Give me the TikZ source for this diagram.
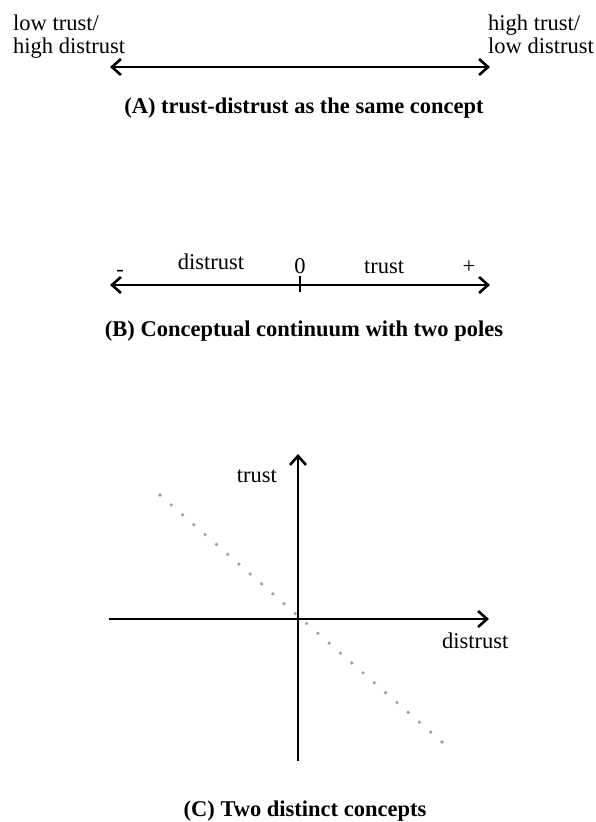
\documentclass[tikz,border=0pt]{standalone}
\usepackage{fontspec}
\setmainfont{Liberation Serif}
\usetikzlibrary{arrows.meta}
\begin{document}
\begin{tikzpicture}[x=1pt,y=-1pt,
  lbl/.style={font=\fontsize{22.5}{25}\selectfont, inner sep=0pt},
  captext/.style={font=\fontsize{22.5}{25}\selectfont\bfseries, inner sep=0pt, anchor=base},
  tipA/.tip={Straight Barb[length=9pt,width=16pt,line width=2.6pt]},
  axisarrow/.style={line width=2.8pt, -tipA},
  dblarrow/.style={line width=2.8pt, tipA-tipA},
  dotmark/.style={fill=black!38, draw=none}]
\useasboundingbox (0,0) rectangle (596,822);

% (A)
\node[lbl, anchor=base west] (lt1) at (13,30) {low trust/};
\node[lbl, anchor=base west] (lt2) at (13,53) {high distrust};
\node[lbl, anchor=base west] (ht1) at (488,30) {high trust/};
\node[lbl, anchor=base west] (ht2) at (488,53) {low distrust};
\coordinate (aL) at (110,67);
\coordinate (aR) at (490,67);
\draw[dblarrow] (aL) -- (aR);
\node[captext] (capA) at (304,113) {(A) trust-distrust as the same concept};

% (B)
\node[lbl, anchor=base] (minus) at (120,276) {-};
\node[lbl, anchor=base] (bdis) at (211,269) {distrust};
\node[lbl, anchor=base] (zero) at (300,273) {0};
\node[lbl, anchor=base] (btr) at (384,273) {trust};
\node[lbl, anchor=base] (plus) at (469,273) {+};
\coordinate (bL) at (110,285);
\coordinate (bR) at (490,285);
\draw[dblarrow] (bL) -- (bR);
\coordinate (tkT) at (300,276);
\coordinate (tkB) at (300,292);
\draw[line width=2pt] (tkT) -- (tkB);
\node[captext] (capB) at (304,336) {(B) Conceptual continuum with two poles};

% (C)
\foreach \i in {0,...,25}{
  \fill[dotmark] ({160+\i*11.28},{495+\i*9.88}) circle (1.8);
}
\coordinate (o) at (298,619);
\coordinate (vT) at (298,454);
\coordinate (vB) at (298,761);
\coordinate (hL) at (109,619);
\coordinate (hR) at (489,619);
\draw[axisarrow] (vB) -- (vT);
\draw[axisarrow] (hL) -- (hR);
\node[lbl, anchor=base east] (ctr) at (277,482) {trust};
\node[lbl, anchor=base west] (cdis) at (442,648) {distrust};
\node[captext] (capC) at (305,816) {(C) Two distinct concepts};
\end{tikzpicture}
\end{document}
